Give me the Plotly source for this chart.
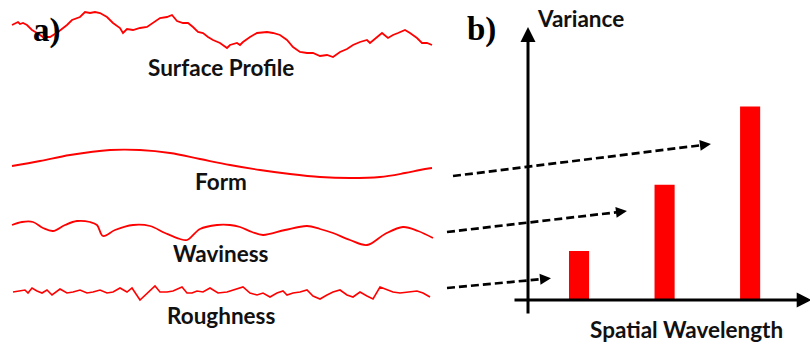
import plotly.graph_objects as go

# ---------------- data (pixel-space traces for panel a) ----------------
surface_x = [12, 17, 18, 20, 23, 27, 32, 37, 43, 50, 58, 67, 72, 80, 85, 90, 95, 100, 107, 113, 120, 123, 127, 133, 140, 147, 153, 160, 167, 172, 177, 183, 188, 193, 198, 203, 208, 213, 220, 223, 227, 230, 237, 240, 243, 250, 257, 267, 273, 280, 287, 293, 300, 307, 313, 320, 327, 333, 340, 347, 353, 360, 367, 370, 377, 382, 388, 393, 398, 405, 410, 417, 422, 427, 432]
surface_y = [25, 23, 22, 24, 23, 25, 30, 33, 37, 37, 32, 25, 20, 17, 12, 13, 12, 13, 17, 23, 28, 33, 29, 30, 28, 27, 23, 18, 17, 15, 21, 23, 23, 27, 32, 33, 37, 40, 43, 45, 48, 45, 43, 45, 42, 37, 33, 32, 33, 35, 40, 47, 52, 53, 53, 56, 55, 57, 52, 49, 45, 42, 40, 43, 37, 33, 38, 35, 33, 30, 33, 38, 43, 43, 45]

form_x = [12, 40, 70, 110, 140, 170, 200, 230, 260, 290, 320, 350, 380, 405, 420, 432]
form_y = [166, 161, 155, 150, 150, 153, 159, 165, 170, 174, 177, 178, 177, 173, 170, 168]

wavi_x = [12, 22, 33, 43, 53, 65, 77, 90, 97, 103, 115, 133, 150, 165, 180, 187, 200, 217, 230, 240, 252, 263, 285, 307, 320, 333, 350, 367, 385, 403, 418, 433]
wavi_y = [225, 222, 222, 228, 231, 225, 221, 222, 225, 236, 230, 225, 226, 233, 239, 240, 229, 225, 225, 227, 232, 235, 230, 226, 229, 233, 240, 245, 234, 227, 231, 238]

rough_x = [13, 20, 25, 28, 32, 37, 42, 47, 52, 60, 67, 73, 80, 87, 93, 100, 107, 113, 120, 127, 132, 140, 147, 155, 160, 167, 173, 182, 187, 192, 197, 203, 210, 218, 227, 233, 243, 250, 257, 263, 270, 277, 283, 287, 293, 300, 307, 313, 320, 327, 333, 340, 347, 353, 360, 367, 373, 380, 387, 393, 400, 407, 417, 423, 430]
rough_y = [292, 291, 290, 293, 288, 291, 293, 290, 295, 289, 293, 292, 290, 293, 292, 290, 293, 292, 288, 292, 288, 300, 293, 286, 292, 292, 291, 287, 293, 293, 291, 292, 288, 293, 292, 290, 287, 293, 295, 293, 297, 293, 291, 295, 293, 292, 290, 296, 299, 295, 292, 290, 295, 297, 292, 296, 299, 287, 290, 292, 293, 292, 291, 293, 297]

# ---------------- data (panel b bar chart) ----------------
bar_x = [1, 2, 3]
bar_var = [1.0, 2.35, 3.95]

labels_a = ["Surface Profile", "Form", "Waviness", "Roughness"]
label_a_y = [67, 181, 253, 315]

RED = "#ff0000"
fig = go.Figure()

traces_a = [(surface_x, surface_y, "linear", 1.8), (form_x, form_y, "spline", 1.8),
            (wavi_x, wavi_y, "spline", 1.8), (rough_x, rough_y, "linear", 1.6)]
for xs, ys, shp, w in traces_a:
    fig.add_trace(go.Scatter(x=xs, y=ys, mode="lines", line=dict(color=RED, width=w, shape=shp),
                             hoverinfo="skip", showlegend=False, xaxis="x", yaxis="y"))

# dashed arrows (pixel space)
arrows = [((453, 176), (703, 145)), ((447, 232), (619, 212)), ((447, 288), (543, 279))]
for (x0, y0), (x1, y1) in arrows:
    fig.add_trace(go.Scatter(x=[x0, x1], y=[y0, y1], mode="lines",
                             line=dict(color="black", width=2.7, dash="8px,4px"),
                             hoverinfo="skip", showlegend=False, xaxis="x", yaxis="y"))
    dx, dy = x1 - x0, y1 - y0
    L = (dx * dx + dy * dy) ** 0.5
    fig.add_annotation(x=x1 + dx / L * 8, y=y1 + dy / L * 8, ax=x1 - dx / L * 2, ay=y1 - dy / L * 2,
                       xref="x", yref="y", axref="x", ayref="y", showarrow=True,
                       arrowhead=2, arrowsize=1.0, arrowwidth=2.2, arrowcolor="black", text="")

# bars
fig.add_trace(go.Bar(x=bar_x, y=bar_var, width=0.235, marker=dict(color=RED, line=dict(width=0)),
                     hoverinfo="skip", showlegend=False, xaxis="x2", yaxis="y2"))

# axes of panel b (arrows)
fig.add_annotation(x=3.72, y=0, ax=0.228, ay=0, xref="x2", yref="y2", axref="x2", ayref="y2",
                   showarrow=True, arrowhead=2, arrowsize=1.0, arrowwidth=3, arrowcolor="black", text="")
fig.add_annotation(x=0.4035, y=5.57, ax=0.4035, ay=-0.306, xref="x2", yref="y2", axref="x2", ayref="y2",
                   showarrow=True, arrowhead=2, arrowsize=1.0, arrowwidth=3, arrowcolor="black", text="")

lab_font = dict(family="Lato, 'Open Sans', sans-serif", size=22.5, color="#111111")
for t, yy in zip(labels_a, label_a_y):
    fig.add_annotation(x=221, y=yy, xref="x", yref="y", text="<b>%s</b>" % t, showarrow=False,
                       font=lab_font, xanchor="center", yanchor="middle")

fig.add_annotation(x=535, y=18, xref="x", yref="y", text="<b>Variance</b>", showarrow=False,
                   font=lab_font, xanchor="left", yanchor="middle")
fig.add_annotation(x=686, y=329, xref="x", yref="y", text="<b>Spatial Wavelength</b>", showarrow=False,
                   font=lab_font, xanchor="center", yanchor="middle")

panel_font = dict(family="'Liberation Serif', serif", size=33, color="black")
fig.add_annotation(x=31, y=30, xref="x", yref="y", text="<b>a)</b>", showarrow=False,
                   font=panel_font, xanchor="left", yanchor="middle")
fig.add_annotation(x=465, y=29, xref="x", yref="y", text="<b>b)</b>", showarrow=False,
                   font=panel_font, xanchor="left", yanchor="middle")

W, H = 810, 344
fig.update_layout(
    width=W, height=H, margin=dict(l=0, r=0, t=0, b=0),
    paper_bgcolor="white", plot_bgcolor="rgba(0,0,0,0)",
    xaxis=dict(range=[0, W], domain=[0, 1], visible=False, fixedrange=True),
    yaxis=dict(range=[H, 0], domain=[0, 1], visible=False, fixedrange=True),
    xaxis2=dict(range=[0.228, 3.70], domain=[513 / W, 1], visible=False, anchor="y2"),
    yaxis2=dict(range=[-0.306, 5.57], domain=[1 - 315 / H, 1 - 27 / H], visible=False, anchor="x2"),
    showlegend=False,
)
fig.write_html("out.html")
